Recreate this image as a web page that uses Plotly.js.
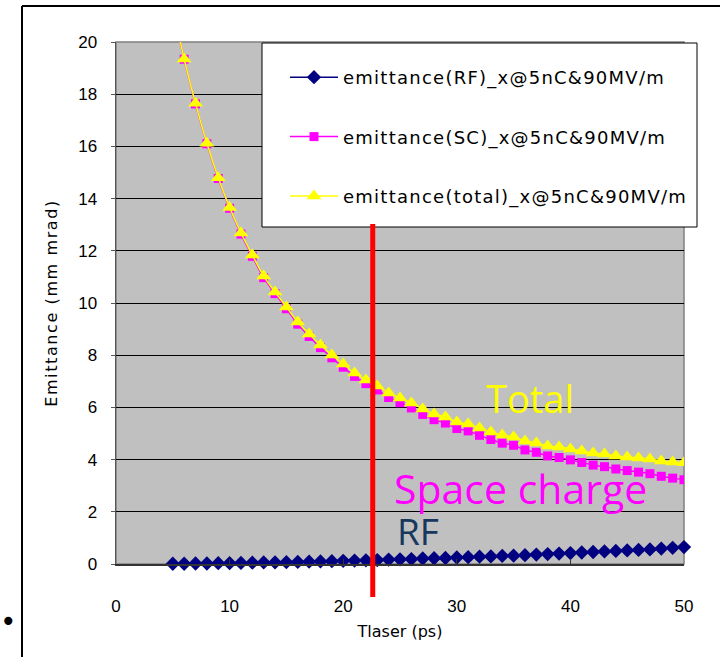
<!DOCTYPE html>
<html>
<head>
<meta charset="utf-8">
<script src="https://cdn.plot.ly/plotly-3.0.1.min.js"></script>
<style>
html,body{margin:0;padding:0;background:#fff;}
#chart{width:720px;height:657px;}
.legendtext{letter-spacing:1.25px;}
.ytitle{letter-spacing:1.6px;}
</style>
</head>
<body>
<div id="chart"></div>
<script>
// Laser pulse length (ps)
const tlaser = [5,6,7,8,9,10,11,12,13,14,15,16,17,18,19,20,21,22,23,24,25,26,27,28,29,30,31,32,33,34,35,36,37,38,39,40,41,42,43,44,45,46,47,48,49,50];
// emittance(RF)_x@5nC&90MV/m
const emitRF = [0.01,0.01,0.02,0.02,0.03,0.03,0.04,0.05,0.06,0.06,0.07,0.08,0.09,0.10,0.11,0.12,0.13,0.14,0.15,0.17,0.18,0.19,0.21,0.22,0.23,0.25,0.26,0.28,0.29,0.31,0.32,0.34,0.36,0.38,0.40,0.42,0.44,0.46,0.48,0.50,0.52,0.54,0.56,0.59,0.62,0.65];
// emittance(SC)_x@5nC&90MV/m
const emitSC = [21.4,19.34,17.63,16.10,14.77,13.63,12.64,11.79,10.97,10.36,9.78,9.19,8.72,8.29,7.90,7.54,7.19,6.91,6.67,6.38,6.18,5.98,5.73,5.53,5.40,5.19,5.10,4.93,4.77,4.63,4.55,4.37,4.28,4.14,4.08,3.99,3.89,3.79,3.73,3.64,3.58,3.52,3.46,3.36,3.29,3.23];
// emittance(total)_x@5nC&90MV/m
const emitTotal = [21.4,19.35,17.65,16.12,14.80,13.66,12.68,11.84,11.03,10.42,9.85,9.27,8.81,8.39,8.01,7.66,7.32,7.05,6.82,6.55,6.36,6.17,5.94,5.75,5.63,5.44,5.36,5.21,5.06,4.94,4.87,4.71,4.64,4.52,4.48,4.41,4.33,4.25,4.21,4.14,4.10,4.06,4.02,3.95,3.91,3.88];
const seriesNames = ['emittance(RF)_x@5nC&90MV/m','emittance(SC)_x@5nC&90MV/m','emittance(total)_x@5nC&90MV/m'];
const xTicks = [0,10,20,30,40,50];
const yTicks = [0,2,4,6,8,10,12,14,16,18,20];
const markTime = 22.6; // red marker line (ps)
const labels = [
  {text:'Total', x:36.4, y:6.36, color:'#ffff00', size:38},
  {text:'Space charge', x:35.6, y:2.9, color:'#ff00ff', size:41},
  {text:'RF', x:26.6, y:1.3, color:'#17375e', size:37}
];

const W=720,H=657, L=116, R=684, T=42, B=564;
const px = v => (v-L)/(R-L);
const py = v => (B-v)/(B-T);

const traces = [
  {x:tlaser, y:emitRF, name:seriesNames[0], mode:'lines+markers', type:'scatter',
   line:{color:'#000080', width:1.5}, marker:{symbol:'diamond', size:11, color:'#000080'}, legendgroup:'a', cliponaxis:false},
  {x:tlaser, y:emitSC, name:seriesNames[1], mode:'lines+markers', type:'scatter', line:{color:'#ff00ff', width:1.5, shape:'spline'},
   marker:{symbol:'square', size:9, color:'#ff00ff'}, legendgroup:'b'},
  {x:tlaser, y:emitTotal, name:seriesNames[2], mode:'lines+markers', type:'scatter', line:{color:'#ffff00', width:1.5, shape:'spline'},
   marker:{symbol:'triangle-up', size:13, color:'#ffff00'}, legendgroup:'c'}
];

const tickFont = {family:'Liberation Sans, Arial, sans-serif', size:17, color:'#000'};
const layout = {
  width:W, height:H,
  margin:{l:L, r:W-R, t:T, b:H-B, pad:0},
  paper_bgcolor:'#ffffff', plot_bgcolor:'#c0c0c0',
  showlegend:true,
  legend:{x:px(285), y:py(59), xanchor:'left', yanchor:'top', bgcolor:'rgba(0,0,0,0)', borderwidth:0,
    itemwidth:48,
    font:{family:'DejaVu Sans, sans-serif', size:18, color:'#000'}, tracegroupgap:33},
  xaxis:{range:[0,50], tickvals:xTicks, ticktext:xTicks.map(String), showgrid:false, zeroline:false,
    showline:true, linecolor:'#333', linewidth:2, ticks:'inside', ticklen:5, tickcolor:'#333',
    tickfont:tickFont, ticklabelstandoff:26,
    title:{text:'Tlaser (ps)', font:{family:'DejaVu Sans, sans-serif', size:16, color:'#000'}, standoff:10}},
  yaxis:{range:[0,20], tickvals:yTicks, ticktext:yTicks.map(String), showgrid:true, gridcolor:'#000', gridwidth:1, zeroline:false,
    showline:true, linecolor:'#555', linewidth:1.5, ticks:'outside', ticklen:4, tickcolor:'#555',
    tickfont:tickFont, ticklabelstandoff:10,
    title:{text:'Emittance (mm mrad)', font:{family:'DejaVu Sans, sans-serif', size:16, color:'#000'}, standoff:16}},
  shapes:[
    {type:'rect', xref:'paper', yref:'paper', x0:0, x1:1, y0:0, y1:1, line:{color:'#808080', width:1.5}, layer:'below'},
    {type:'rect', xref:'paper', yref:'paper', x0:px(262), x1:px(697), y0:py(227), y1:py(43), fillcolor:'#ffffff', line:{color:'#000', width:1}, layer:'above'},
    {type:'line', xref:'x', yref:'paper', x0:markTime, x1:markTime, y0:py(597), y1:py(224), line:{color:'#ff0000', width:5}, layer:'above'},
    {type:'line', xref:'paper', yref:'paper', x0:px(22), x1:px(722), y0:py(6), y1:py(6), line:{color:'#000', width:2}},
    {type:'line', xref:'paper', yref:'paper', x0:px(22), x1:px(22), y0:py(6), y1:py(660), line:{color:'#000', width:2}}
  ],
  annotations:[
    ...labels.map(l=>({text:l.text, x:l.x, y:l.y, xref:'x', yref:'y', showarrow:false,
      font:{family:'Open Sans, Noto Sans, sans-serif', size:l.size, color:l.color}})),
    {text:'•', xref:'paper', yref:'paper', x:px(8), y:py(621), xanchor:'center', yanchor:'middle', showarrow:false,
      font:{family:'DejaVu Sans', size:28, color:'#000'}}
  ]
};
Plotly.newPlot('chart', traces, layout, {displayModeBar:false, staticPlot:true});
</script>
</body>
</html>
